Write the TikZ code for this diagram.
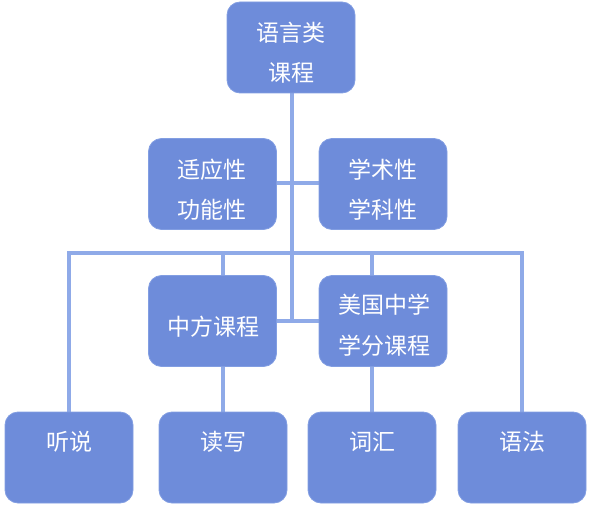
\documentclass[tikz,border=0pt]{standalone}
\usepackage{fontspec}
\usetikzlibrary{backgrounds}
\newfontfamily\cjk{Noto Sans CJK SC}
\definecolor{boxfill}{RGB}{110,140,218}
\definecolor{boxedge}{RGB}{130,158,226}
\definecolor{linec}{RGB}{143,170,232}
\tikzset{
  box/.style={draw=boxedge, line width=0.8pt, fill=boxfill, rounded corners=13pt, minimum width=128pt, minimum height=91pt, inner sep=0pt},
  txt/.style={text=white, font=\cjk\fontsize{23}{23}\selectfont, inner sep=0pt, anchor=center},
  conn/.style={draw=linec, line width=3.2pt}
}
\begin{document}
\begin{tikzpicture}[x=1pt,y=-1pt]
\useasboundingbox (0,0) rectangle (589,508);
\coordinate (bus) at (292,253);
\coordinate (midrow) at (292,321);
\coordinate (secrow) at (292,183);
% boxes
\node[box] (top) at (291,47.5) {};
\node[box] (sy) at (212.5,184) {};
\node[box] (xs) at (383,184) {};
\node[box] (zf) at (212.5,321) {};
\node[box] (mg) at (383,321) {};
\node[box] (ts) at (69,457.5) {};
\node[box] (dx) at (223,457.5) {};
\node[box] (ch) at (372,457.5) {};
\node[box] (yf) at (522,457.5) {};
% connectors behind boxes
\begin{scope}[on background layer]
\draw[conn] (top.south -| bus) -- (midrow);
\draw[conn] (sy.east |- secrow) -- (xs.west |- secrow);
\draw[conn] (zf.east |- midrow) -- (mg.west |- midrow);
\draw[conn] (ts.north) -- (ts.north |- bus) -- (yf.north |- bus) -- (yf.north);
\draw[conn] (dx.north |- bus) -- (dx.north |- zf.north);
\draw[conn] (ch.north |- bus) -- (ch.north |- mg.north);
\draw[conn] (dx.north |- zf.south) -- (dx.north);
\draw[conn] (ch.north |- mg.south) -- (ch.north);
\end{scope}
% texts
\node[txt] (t1a) at (291,33) {语言类};
\node[txt] (t1b) at (291,73) {课程};
\node[txt] (t2a) at (212,170) {适应性};
\node[txt] (t2b) at (212,210) {功能性};
\node[txt] (t3a) at (383,170) {学术性};
\node[txt] (t3b) at (383,210) {学科性};
\node[txt] (t4) at (213,327) {中方课程};
\node[txt] (t5a) at (384,305) {美国中学};
\node[txt] (t5b) at (384,346) {学分课程};
\node[txt] (t6) at (69,442) {听说};
\node[txt] (t7) at (223,442) {读写};
\node[txt] (t8) at (372,442) {词汇};
\node[txt] (t9) at (522,442) {语法};
\end{tikzpicture}
\end{document}
